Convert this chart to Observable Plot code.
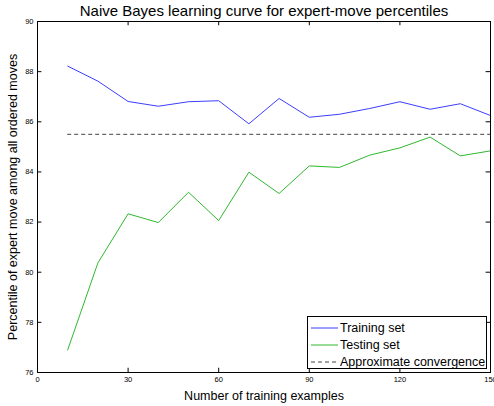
<!DOCTYPE html>
<html>
<head>
<meta charset="utf-8">
<script src="https://cdn.jsdelivr.net/npm/d3@7"></script>
<script src="https://cdn.jsdelivr.net/npm/@observablehq/plot@0.6"></script>
<style>
  body { margin: 0; background: #fff; font-family: "Liberation Sans", Arial, sans-serif; }
  #wrap { position: relative; width: 494px; height: 406px; }
  #legend { position: absolute; left: 307px; top: 316px; width: 180px; height: 53px;
    border: 1px solid #000; background: #fff; font-size: 12.5px; box-sizing: border-box; }
  .row { position: absolute; left: 3px; height: 17px; display: flex; align-items: center; }
  .row svg { margin-right: 2px; }
  .tk text { font-family: "Liberation Sans Narrow", "Liberation Sans", Arial, sans-serif; }
</style>
</head>
<body>
<div id="wrap"></div>
<script>
const examples = [10, 20, 30, 40, 50, 60, 70, 80, 90, 100, 110, 120, 130, 140, 150];
const training = [88.22, 87.62, 86.81, 86.62, 86.80, 86.84, 85.92, 86.93, 86.18, 86.30, 86.53, 86.80, 86.50, 86.72, 86.25];
const testing  = [76.90, 80.37, 82.33, 81.98, 83.19, 82.06, 83.99, 83.14, 84.24, 84.18, 84.67, 84.96, 85.39, 84.64, 84.84];
const convergence = 85.5;
const xTicks = [0, 30, 60, 90, 120, 150];
const yTicks = [76, 78, 80, 82, 84, 86, 88, 90];
const seriesNames = ["Training set", "Testing set", "Approximate convergence"];
const seriesColors = ["#3d3dff", "#2fb82f", "#444"];
const titleText = "Naive Bayes learning curve for expert-move percentiles";
const xLabel = "Number of training examples";
const yLabel = "Percentile of expert move among all ordered moves";

const trainData = examples.map((x, i) => ({x, y: training[i]}));
const testData = examples.map((x, i) => ({x, y: testing[i]}));

const chart = Plot.plot({
  width: 494, height: 406,
  marginLeft: 37, marginRight: 4, marginTop: 21, marginBottom: 34,
  style: {fontFamily: "Liberation Sans, Arial, sans-serif", background: "#fff"},
  x: {domain: [0, 150]},
  y: {domain: [76, 90]},
  marks: [
    Plot.axisX(xTicks, {tickSize: 0, tickPadding: 4, fontSize: 7.5, label: null, className: "tk"}),
    Plot.axisY(yTicks, {tickSize: 0, tickPadding: 4, fontSize: 7.5, label: null, className: "tk"}),
    Plot.ruleX(xTicks.slice(1, -1), {x: d => d, y1: 76, y2: 76 + 0.17, stroke: "#000"}),
    Plot.ruleX(xTicks.slice(1, -1), {x: d => d, y1: 90, y2: 90 - 0.17, stroke: "#000"}),
    Plot.ruleY(yTicks.slice(1, -1), {y: d => d, x1: 0, x2: 1.45, stroke: "#000"}),
    Plot.ruleY(yTicks.slice(1, -1), {y: d => d, x1: 150, x2: 150 - 1.45, stroke: "#000"}),
    Plot.ruleY([convergence], {x1: 10, x2: 150, stroke: seriesColors[2], strokeDasharray: "4,3"}),
    Plot.line(trainData, {x: "x", y: "y", stroke: seriesColors[0], strokeWidth: 1}),
    Plot.line(testData, {x: "x", y: "y", stroke: seriesColors[1], strokeWidth: 1}),
    Plot.frame({stroke: "#000"}),
    Plot.text([titleText], {frameAnchor: "top", dy: -16, fontSize: 15, fill: "#000"}),
    Plot.text([xLabel], {frameAnchor: "bottom", dy: 27, fontSize: 12.5, fill: "#000"}),
    Plot.text([yLabel], {frameAnchor: "left", dx: -25, rotate: -90, textAnchor: "middle", fontSize: 12.5, fill: "#000"})
  ]
});
const wrap = document.getElementById("wrap");
wrap.appendChild(chart);

const legend = document.createElement("div");
legend.id = "legend";
seriesNames.forEach((name, i) => {
  const row = document.createElement("div");
  row.className = "row";
  row.style.top = (2 + i * 17) + "px";
  const dash = i === 2 ? 'stroke-dasharray="4,3"' : '';
  row.innerHTML = `<svg width="27" height="4"><line x1="0" y1="2" x2="27" y2="2" stroke="${seriesColors[i]}" stroke-width="1" ${dash}/></svg><span>${name}</span>`;
  legend.appendChild(row);
});
wrap.appendChild(legend);
</script>
</body>
</html>
